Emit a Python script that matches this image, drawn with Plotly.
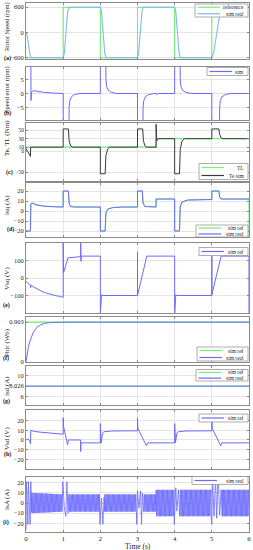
import plotly.graph_objects as go

# ---------------- data ----------------
SPEED_REF_T = [0, 1, 1, 2, 2, 3, 3, 4, 4, 5, 5, 6]
SPEED_REF = [-600, -600, 600, 600, -600, -600, 600, 600, -600, -600, 600, 600]
SPEED_REAL_T = [0, 0.03, 0.07, 0.11, 0.14, 0.16, 1.0, 1.03, 1.12, 1.15, 1.17, 2.0, 2.03, 2.12, 2.15, 2.18,
                3.0, 3.03, 3.12, 3.15, 3.18, 4.0, 4.03, 4.12, 4.15, 4.18, 5.0, 5.05, 5.22, 5.26, 5.3, 6]
SPEED_REAL = [0, -60, -300, -540, -595, -600, -600, -500, 500, 590, 600, 600, 500, -500, -590, -600,
              -600, -500, 500, 590, 600, 600, 500, -500, -590, -600, -600, -480, 480, 590, 600, 600]

ERR_T = [0, 0.125, 0.135, 0.15, 0.2, 0.3, 0.5, 0.8, 1.0, 1.0, 1.15, 1.16, 1.18, 1.22, 1.3, 1.45,
         2.0, 2.0, 2.14, 2.15, 2.17, 2.21, 2.3, 2.45, 3.0, 3.0, 3.14, 3.15, 3.17, 3.21, 3.3, 3.45,
         3.5, 3.51, 3.55, 4.0, 4.0, 4.14, 4.15, 4.17, 4.21, 4.3, 4.45, 5.0, 5.0, 5.2, 5.21, 5.23,
         5.27, 5.36, 5.5, 6.0]
ERR = [30, 30, -2.5, 0.5, 1.0, 0.8, 0.4, 0.1, 0, -30, -30, -5, -2.5, -1.2, -0.4, 0,
       0, 30, 30, 5, 2.5, 1.2, 0.4, 0, 0, -30, -30, -5, -2.5, -1.2, -0.4, 0,
       0, -0.4, 0, 0, 30, 30, 5, 2.5, 1.2, 0.4, 0, 0, -30, -30, -5, -2.5,
       -1.2, -0.4, 0, 0]

TL_T = [0, 3.5, 3.5, 6]
TL = [10, 10, 30, 30]
TE_T = [0, 0.12, 0.125, 1.0, 1.0, 1.14, 1.16, 1.2, 1.25, 2.0, 2.0, 2.13, 2.15, 2.2, 2.25, 3.0, 3.0, 3.14,
        3.16, 3.2, 3.25, 3.5, 3.5, 3.52, 3.56, 4.0, 4.0, 4.13, 4.15, 4.2, 4.26, 5.0, 5.0, 5.19, 5.21, 5.25, 5.3, 6]
TE = [7, -12, 10, 10, 53, 53, 25, 13, 10, 10, -53, -53, -10, 6, 10, 10, 53, 53,
      25, 13, 10, 10, 64, 25, 30, 30, -53, -53, 5, 25, 30, 30, 53, 53, 40, 32, 30, 30]

IQ_T = [0, 0.12, 0.13, 0.16, 0.3, 0.5, 0.8, 1.0, 1.0, 1.14, 1.16, 1.2, 1.3, 2.0, 2.0, 2.13, 2.15, 2.2,
        2.35, 2.6, 3.0, 3.0, 3.13, 3.15, 3.2, 3.5, 3.5, 4.0, 4.0, 4.13, 4.15, 4.2, 4.35, 5.0, 5.0, 5.19,
        5.21, 5.25, 6]
IQ = [-20, -20, 7, 8, 6, 4.8, 4.2, 4, 20, 20, 8, 4.5, 4, 4, -20, -20, -2, 2,
      3.5, 4, 4, 20, 20, 8, 4.5, 4, 12, 12, -20, -20, 5, 9, 11, 11.5, 20, 20,
      14, 12, 12]
IQ_REF_T = IQ_T + [6]
IQ_REF = IQ + [-26]

VSQ_T = [0, 0.05, 0.1, 0.12, 0.125, 0.13, 0.2, 0.3, 0.4, 0.5, 0.6, 0.7, 0.8, 0.9, 1.0, 1.0, 1.01, 1.13,
         1.47, 1.47, 1.48, 1.49, 2.0, 2.0, 2.03, 2.06, 3.0, 3.0, 3.0, 3.25, 4.0, 4.0, 4.03, 4.06,
         5.0, 5.0, 5.0, 5.25, 6.0, 6.0]
VSQ = [-20, -28, -38, -45, -55, -40, -50, -63, -74, -83, -90, -96, -101, -105, -110, 210, 30, 115,
       122, 210, 95, 125, 125, -210, -95, -100, -100, 150, -100, 125, 125, -210, -95, -100,
       -100, 130, -95, 125, 125, -210]

PHI_T = [0, 0.03, 0.06, 0.1, 0.15, 0.2, 0.3, 0.4, 0.5, 0.6, 0.8, 1.0, 1.2, 6]
PHI_REAL = [0, 0.18, 0.32, 0.46, 0.59, 0.68, 0.79, 0.845, 0.875, 0.89, 0.9, 0.902, 0.903, 0.903]
PHI_REF_T = [0, 6]
PHI_REF = [0.903, 0.903]

ISD_T = [0, 6]
ISD_REF = [8.026, 8.026]
ISD_REAL = [8.026, 8.026]

VSD_T = [0, 0.05, 0.1, 0.12, 0.13, 0.2, 0.4, 0.7, 1.0, 1.0, 1.01, 1.12, 1.14, 1.2, 1.47, 1.47, 1.48,
         2.0, 2.0, 2.02, 2.06, 2.1, 2.3, 3.0, 3.0, 3.01, 3.24, 3.27, 4.0, 4.0, 4.02, 4.06, 4.1, 4.3,
         5.0, 5.0, 5.01, 5.24, 5.27, 6.0]
VSD = [0, 1, -1, -4, 10, 9, 8, 6.8, 6, 23, 14, -5, 0, 0, 0, -12, -3,
       -3, 17, -3, 7, 8.5, 9.3, 9.5, 23, 12, -6, -3, -3, 17, -3, 7, 8.5, 9.3,
       9.5, 23, 12, -6, -3, -3]

# isA: transient swings around each reversal (explicit) + steady envelopes
IA_TR_T = [0, 0.01, 0.05, 0.065, 0.11, 0.13, 0.15,
           0.97, 0.99, 1.03, 1.07, 1.1, 1.13, 1.15,
           1.97, 1.99, 2.03, 2.07, 2.1, 2.12,
           2.97, 2.98, 3.0, 3.04, 3.08, 3.11, 3.13, 3.15,
           3.98, 3.99, 4.03, 4.06, 4.1, 4.12,
           4.98, 5.0, 5.02, 5.06, 5.1, 5.13, 5.17, 5.21, 5.25, 5.28]
IA_TR = [-26, 21, -21, 21, -21, 21, -9,
         -8.5, 21, -4, -13, 21, -10, 8.5,
         8.5, -21, 5, -21, 6, -8.5,
         -8.5, -21, 12, -5, 12, -21, 10, -8.5,
         13, -21, 15, -8, 13, -13,
         13, -21, 22, -13, 26, -15, 26, -12, 13, -13]
IA_SEG_START = [0.15, 1.15, 2.12, 3.15, 3.5, 4.12, 5.28]
IA_SEG_END = [0.97, 1.97, 2.97, 3.5, 3.98, 4.98, 6.0]
IA_AMP_START = [10, 8.5, 8.5, 8.5, 13, 13, 13]
IA_AMP_END = [8.5, 8.5, 8.5, 8.5, 13, 13, 13]
IA_STRIPES_PER_S = 30

X_TICKS = [0, 1, 2, 3, 4, 5, 6]

# ---------------- layout helpers ----------------
W, H = 253, 550
XL, XR = 26, 249
PANELS = [(3, 59), (67, 120), (123, 181), (183, 237), (243, 313), (317, 362), (366, 405), (410, 469), (477, 532)]
FONT = "Liberation Serif"
GREEN = "#74f074"
LBLUE = "#80b8f4"
BLUE = "#6a6aff"
DARK = "#3a3a3a"
AXC = "#8a8a8a"


def px_x(x):
    return x / W


def px_y(y):
    return 1 - y / H


fig = go.Figure()


def add(k, x, y, color, width=1.0):
    ax = "" if k == 1 else str(k)
    fig.add_trace(go.Scatter(x=x, y=y, mode="lines", line=dict(color=color, width=width),
                             xaxis="x" + ax, yaxis="y" + ax, showlegend=False, hoverinfo="skip"))


# build isA series
ia_pts = list(zip(IA_TR_T, IA_TR))
for s, e, a0, a1 in zip(IA_SEG_START, IA_SEG_END, IA_AMP_START, IA_AMP_END):
    n = int((e - s) * IA_STRIPES_PER_S * 2)
    for j in range(n + 1):
        t = s + (e - s) * j / n
        a = a0 + (a1 - a0) * j / n
        ia_pts.append((t, a if j % 2 == 0 else -a))
ia_pts.sort(key=lambda p: p[0])
IA_T = [p[0] for p in ia_pts]
IA = [p[1] for p in ia_pts]

add(1, SPEED_REF_T, SPEED_REF, GREEN, 1.1)
add(1, SPEED_REAL_T, SPEED_REAL, LBLUE, 1.1)
add(2, ERR_T, ERR, BLUE)
add(3, TL_T, TL, GREEN, 1.3)
add(3, TE_T, TE, DARK)
add(4, IQ_REF_T, IQ_REF, GREEN)
add(4, IQ_T, IQ, BLUE)
add(5, VSQ_T, VSQ, BLUE)
add(6, PHI_REF_T, PHI_REF, GREEN, 1.1)
add(6, PHI_T, PHI_REAL, BLUE)
add(7, ISD_T, ISD_REF, GREEN)
add(7, ISD_T, ISD_REAL, BLUE)
add(8, VSD_T, VSD, BLUE)
add(9, IA_T, IA, BLUE, 0.8)

YCFG = [
    ([-630, 700], [-600, 0, 600], None),
    ([-9.5, 9.5], [-5, 0, 5], None),
    ([-70, 67], [-50, 0, 10, 30, 50], None),
    ([-26, 28], [-20, -10, 0, 10, 20], None),
    ([-200, 200], [-100, 0, 100], None),
    ([0, 1.02], [0, 0.903], ["0", "0.903"]),
    ([4.4, 11.9], [6, 8.026, 10], ["6", "8.026", "10"]),
    ([-30, 31], [-20, -10, 0, 10, 20], None),
    ([-28.5, 25.6], [-20, -10, 0, 10, 20], None),
]
YTITLES = ["Rotor Speed (rpm)", "Speed error (rpm)", "Te, TL (Nm)", "isq (A)", "Vsq (V)",
           "Phir (Wb)", "isd (A)", "Vsd (V)", "isA (A)"]
YTITLE_C = [27, 90, 138, 205, 279, 343, 386, 439, 500]
YTITLE_SIZE = [6.5, 6.5, 7, 7, 7, 7, 7, 7, 7]
PLABELS = ["(a)", "(b)", "(c)", "(d)", "(e)", "(f)", "(g)", "(h)", "(i)"]
PLABEL_POS = [(8, 58), (7, 113), (9, 172), (10, 229), (6, 305), (6, 358), (6, 401), (7, 454), (6, 522)]

layout = dict(width=W, height=H, margin=dict(l=0, r=0, t=0, b=0), paper_bgcolor="white",
              plot_bgcolor="white", font=dict(family=FONT, size=7, color="#262626"), showlegend=False)
annotations = []
shapes = []
for k in range(1, 10):
    top, bot = PANELS[k - 1]
    ax = "" if k == 1 else str(k)
    rng, tv, tt = YCFG[k - 1]
    layout["xaxis" + ax] = dict(domain=[px_x(XL), px_x(XR)], anchor="y" + ax, range=[0, 6],
                                tickvals=X_TICKS, showticklabels=(k == 9), ticks="inside", ticklen=2,
                                tickcolor=AXC, showline=True, linecolor=AXC, linewidth=0.8, mirror="ticks",
                                showgrid=True, gridcolor="#e4e4e4", gridwidth=0.6, zeroline=False,
                                automargin=False, tickfont=dict(size=7, family=FONT))
    yd = dict(domain=[px_y(bot), px_y(top)], anchor="x" + ax, range=rng, tickvals=tv, ticks="inside",
              ticklen=2, tickcolor=AXC, showline=True, linecolor=AXC, linewidth=0.8, mirror="ticks",
              showgrid=True, gridcolor="#e4e4e4", gridwidth=0.6, zeroline=False, automargin=False,
              tickfont=dict(size=6.5 if k != 3 else 5.5, family=FONT))
    if tt:
        yd["ticktext"] = tt
    layout["yaxis" + ax] = yd
    annotations.append(dict(text=YTITLES[k - 1], x=px_x(7), y=px_y(YTITLE_C[k - 1]), xref="paper",
                            yref="paper", textangle=-90, showarrow=False, xanchor="center",
                            yanchor="middle", font=dict(size=YTITLE_SIZE[k - 1], family=FONT, color="#262626")))
    lx, ly = PLABEL_POS[k - 1]
    annotations.append(dict(text="<b>" + PLABELS[k - 1] + "</b>", x=px_x(lx), y=px_y(ly), xref="paper",
                            yref="paper", showarrow=False, xanchor="center", yanchor="middle",
                            font=dict(size=6, family=FONT, color="#111")))

annotations.append(dict(text="Time (s)", x=px_x((XL + XR) / 2), y=px_y(546), xref="paper", yref="paper",
                        showarrow=False, xanchor="center", yanchor="middle",
                        font=dict(size=7.5, family=FONT, color="#262626")))

# custom legend boxes: (left, top, right, bottom, entries)
LEGENDS = [
    (195, 4, 248, 17, [("reference", GREEN), ("sim real", LBLUE)]),
    (207, 67.5, 248, 75.5, [("sim", BLUE)]),
    (199, 163.5, 248, 179.5, [("TL", GREEN), ("Te sim", DARK)]),
    (196, 225, 248, 237, [("sim ref", GREEN), ("sim real", BLUE)]),
    (199, 247.5, 248, 255.5, [("sim ref", BLUE)]),
    (197, 347, 248, 361, [("sim ref", GREEN), ("sim real", BLUE)]),
    (196, 369.5, 248, 381, [("sim ref", GREEN), ("sim real", BLUE)]),
    (199, 414, 248, 422, [("sim ref", BLUE)]),
    (192, 476.5, 248, 484.5, [("sim real", BLUE)]),
]
for l, t, r, b, entries in LEGENDS:
    shapes.append(dict(type="rect", xref="paper", yref="paper", x0=px_x(l), x1=px_x(r), y0=px_y(b),
                       y1=px_y(t), line=dict(color="#8a8a8a", width=0.7), fillcolor="white", layer="above"))
    n = len(entries)
    hstep = (b - t) / n
    for i, (name, col) in enumerate(entries):
        yc = t + hstep * (i + 0.5)
        shapes.append(dict(type="line", xref="paper", yref="paper", x0=px_x(l + 2.5), x1=px_x(l + 25),
                           y0=px_y(yc), y1=px_y(yc), line=dict(color=col, width=1.2), layer="above"))
        annotations.append(dict(text=name, x=px_x(r - 2), y=px_y(yc), xref="paper", yref="paper",
                                showarrow=False, xanchor="right", yanchor="middle",
                                font=dict(size=5.5, family=FONT, color="#262626")))

layout["annotations"] = annotations
layout["shapes"] = shapes
fig.update_layout(**layout)
fig.write_html("out.html", config={"displayModeBar": False},
               post_script="document.body.style.margin='0';document.body.style.overflow='hidden';")
